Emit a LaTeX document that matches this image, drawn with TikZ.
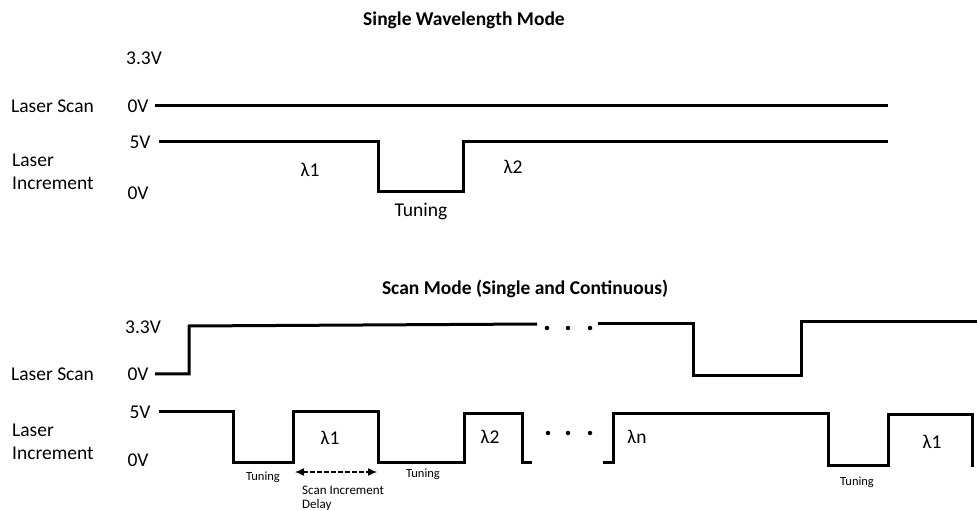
\documentclass[tikz,border=0pt]{standalone}
\usepackage{fontspec}
\setmainfont{Carlito}
\usetikzlibrary{arrows.meta}
\begin{document}
\begin{tikzpicture}[x=1pt,y=-1pt,
  sig/.style={line width=3pt, line join=miter},
  lbl/.style={font=\fontsize{19.5}{22}\selectfont, inner sep=0pt},
  lblw/.style={lbl, anchor=west},
  small/.style={font=\fontsize{12.5}{14}\selectfont, inner sep=0pt},
  ttl/.style={font=\fontsize{19.5}{22}\selectfont\bfseries, inner sep=0pt},
  dotmark/.style={circle, fill=black, inner sep=0pt, minimum size=4.5pt}]
\useasboundingbox[fill=white] (0,0) rectangle (977,510);

% ---------- Single Wavelength Mode ----------
\node[ttl] (t1) at (464,20) {Single Wavelength Mode};
\node[lbl] (v33a) at (144,58) {3.3V};
\node[lblw] (ls1) at (11,106) {Laser Scan};
\node[lbl] (v0a) at (138,106) {0V};
\node[lbl] (v5a) at (140,142) {5V};
\node[lblw] (li1a) at (12,160) {Laser};
\node[lblw] (li1b) at (12,183) {Increment};
\node[lbl] (v0b) at (138,193) {0V};

\draw[sig] (155,106) -- (888,106);
\draw[sig] (159,142) -- (378,142) -- (378,192) -- (463,192) -- (463,142) -- (888,142);

\node[lbl] (la1) at (310,170) {λ1};
\node[lbl] (la2) at (513,167) {λ2};
\node[lbl] (tun1) at (421,211) {Tuning};

% ---------- Scan Mode ----------
\node[ttl] (t2) at (525,289) {Scan Mode (Single and Continuous)};
\node[lbl] (v33b) at (143,327) {3.3V};
\node[lblw] (ls2) at (11,374) {Laser Scan};
\node[lbl] (v0c) at (138,374) {0V};
\node[lbl] (v5b) at (140,412) {5V};
\node[lblw] (li2a) at (12,430) {Laser};
\node[lblw] (li2b) at (12,453) {Increment};
\node[lbl] (v0d) at (138,460) {0V};

% laser scan waveform
\draw[sig] (155,374) -- (189,374) -- (189,326) -- (537,324);
\node[dotmark] (d1) at (547,328) {};
\node[dotmark] (d2) at (568,328) {};
\node[dotmark] (d3) at (590,328) {};
\draw[sig] (598,324) -- (693,324) -- (693,376) -- (801,376) -- (801,322) -- (977,322);

% laser increment waveform
\draw[sig] (159,411) -- (233,411) -- (233,462) -- (293,462) -- (293,411) -- (378,411)
  -- (378,462) -- (464,462) -- (464,413) -- (522,413) -- (522,462) -- (532,462);
\node[dotmark] (d4) at (548,433) {};
\node[dotmark] (d5) at (568,433) {};
\node[dotmark] (d6) at (590,433) {};
\draw[sig] (603,462) -- (613,462) -- (613,413) -- (828,413) -- (828,465) -- (888,465)
  -- (888,414) -- (972,414) -- (972,467);

\node[lbl] (lb1) at (330,438) {λ1};
\node[lbl] (lb2) at (490,437) {λ2};
\node[lbl] (lbn) at (637,437) {λn};
\node[lbl] (lb1r) at (932,442) {λ1};

\node[small] (tun2) at (263,477) {Tuning};
\node[small] (tun3) at (423,474) {Tuning};
\node[small] (tun4) at (857,482) {Tuning};

\coordinate (arrA) at (295,472);
\coordinate (arrB) at (377,472);
\draw[line width=1.2pt, dash pattern=on 4.5pt off 2.5pt,
  {Latex[length=9pt,width=8pt]}-{Latex[length=9pt,width=8pt]}] (arrA) -- (arrB);
\node[small, anchor=west, font=\fontsize{13}{15}\selectfont] (sid1) at (302,490) {Scan Increment};
\node[small, anchor=west, font=\fontsize{13}{15}\selectfont] (sid2) at (302,505) {Delay};
\end{tikzpicture}
\end{document}
